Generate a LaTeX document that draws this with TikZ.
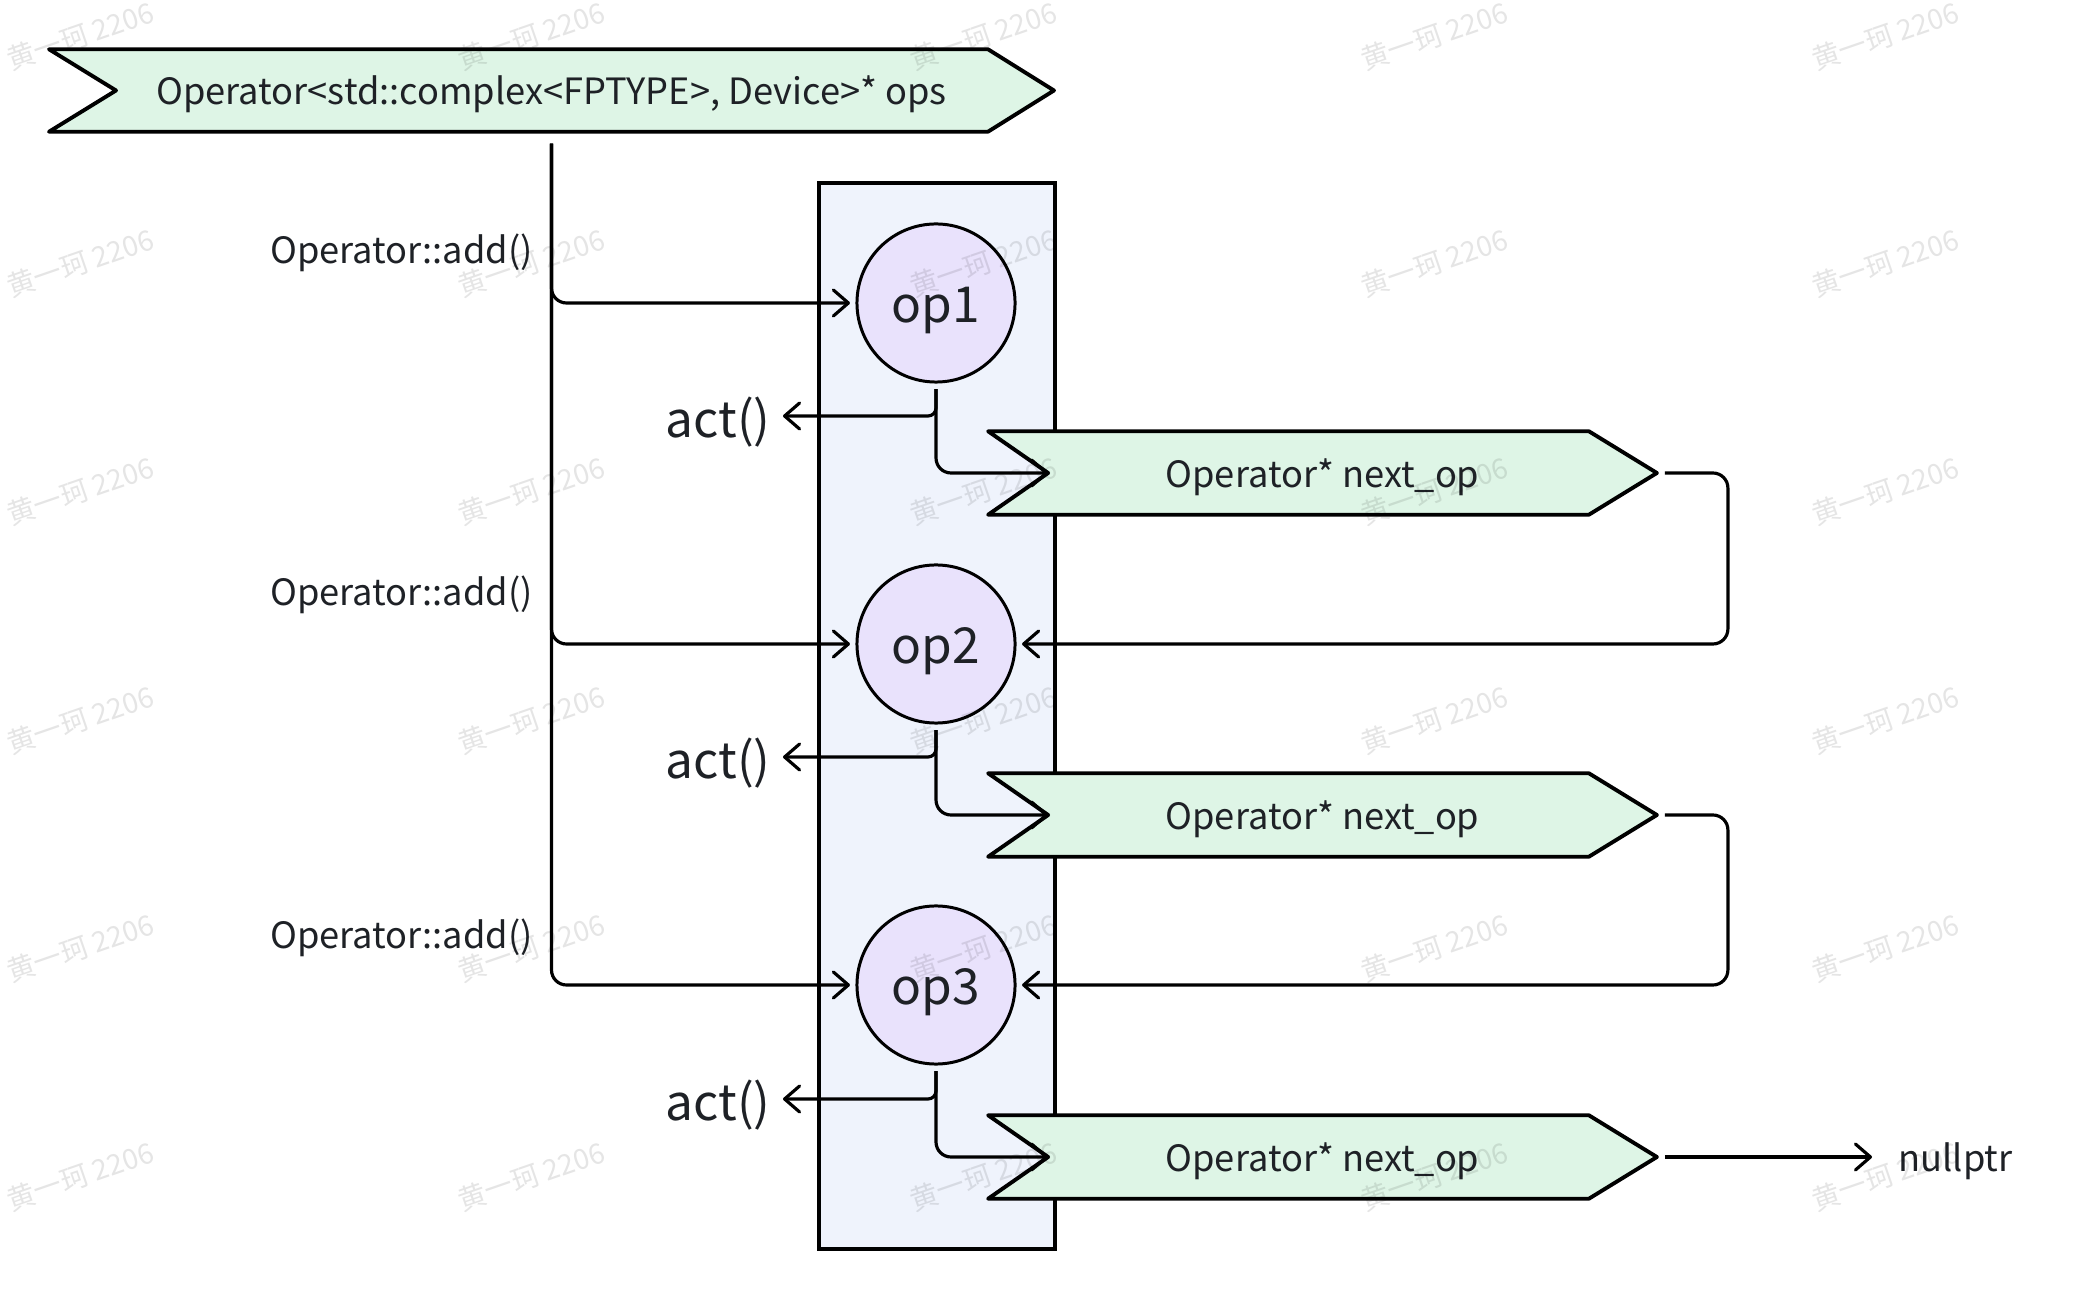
\documentclass[tikz,border=0pt]{standalone}
\usepackage{fontspec}
\setmainfont{Noto Sans CJK SC}
\usetikzlibrary{arrows.meta}
\definecolor{ptrgreen}{RGB}{222,245,230}
\definecolor{listblue}{RGB}{239,243,252}
\definecolor{oppurple}{RGB}{233,226,252}
\definecolor{ink}{RGB}{30,33,38}
\pgfdeclarelayer{listbox}
\pgfdeclarelayer{flags}
\pgfsetlayers{listbox,flags,main}
\tikzset{
% operator circles, pointer flags and their labels
op node/.style={circle,draw,line width=0.85pt,fill=oppurple,minimum size=1.58cm,inner sep=0,outer sep=0.07cm,text=ink,font=\fontsize{14.1}{17}\selectfont,text height=11pt,text depth=0pt},
ptr node/.style={inner sep=0,text=ink,font=\fontsize{10.3}{13}\selectfont,text height=8.1pt,text depth=0pt},
flag line/.style={draw,line width=1.1pt,line join=round,fill=ptrgreen},
call text/.style={text=ink,font=\fontsize{10.3}{13}\selectfont,anchor=east},
act text/.style={text=ink,font=\fontsize{14.1}{17}\selectfont,anchor=east,text height=12.4pt,text depth=0pt},
conn/.style={line width=0.9pt,rounded corners=0.15cm,-{Straight Barb[length=1.5mm,width=2.6mm,round]}},
wm text/.style={text=black,opacity=0.1,rotate=19,font=\fontsize{8}{10}\selectfont}
}
% outline of a pointer flag round node #1: notch depth #2, tip length #3
\newcommand{\ptrflag}[3]{%
  \begin{pgfonlayer}{flags}
    \path[flag line] (#1.north west) -- ([xshift=-#3]#1.north east) -- (#1.east)
      -- ([xshift=-#3]#1.south east) -- (#1.south west) -- ([xshift=#2]#1.west) -- cycle;
  \end{pgfonlayer}}

\begin{document}
\begin{tikzpicture}[x=0.01cm,y=-0.01cm]
\useasboundingbox (0,0) rectangle (2082,1298);
% the list of operators
\begin{pgfonlayer}{listbox}
\draw[line width=0.95pt,fill=listblue] (819,183) rectangle (1055,1249);
\end{pgfonlayer}

\node[ptr node,minimum width=10.03cm,minimum height=0.81cm] (ops) at (551.5,90.5) {Operator<std::complex<FPTYPE>, Device>* ops};
\ptrflag{ops}{0.67cm}{0.66cm}

\node[op node] (op1) at (936,303) {op1};
\node[op node] (op2) at (936,644) {op2};
\node[op node] (op3) at (936,985) {op3};

\node[ptr node,minimum width=6.67cm,minimum height=0.82cm] (next1) at (1322.5,473) {Operator* next\_op};
\node[ptr node,minimum width=6.67cm,minimum height=0.82cm] (next2) at (1322.5,815) {Operator* next\_op};
\node[ptr node,minimum width=6.67cm,minimum height=0.82cm] (next3) at (1322.5,1157) {Operator* next\_op};
\ptrflag{next1}{0.6cm}{0.68cm}
\ptrflag{next2}{0.6cm}{0.68cm}
\ptrflag{next3}{0.6cm}{0.68cm}
\coordinate (next1 in) at ([xshift=0.6cm]next1.west);
\coordinate (next2 in) at ([xshift=0.6cm]next2.west);
\coordinate (next3 in) at ([xshift=0.6cm]next3.west);

\node[call text] (add1) at (545,253) {Operator::add()};
\node[call text] (add2) at (545,595) {Operator::add()};
\node[call text] (add3) at (545,938) {Operator::add()};

\node[act text] (act1) at (783,416) {act()};
\node[act text] (act2) at (783,757) {act()};
\node[act text] (act3) at (783,1099) {act()};

\node[call text,anchor=west,text height=8.1pt,text depth=0pt] (null) at (1886,1157) {nullptr};

% Operator::add() appends to the list
\draw[conn,shorten <=0.12cm] (ops.south) |- (op1);
\draw[conn,shorten <=0.12cm] (ops.south) |- (op2);
\draw[conn,shorten <=0.12cm] (ops.south) |- (op3);

\draw[conn,rounded corners=0.08cm] (op1.south) |- (act1.east);
\draw[conn,rounded corners=0.08cm] (op2.south) |- (act2.east);
\draw[conn,rounded corners=0.08cm] (op3.south) |- (act3.east);
\draw[conn] (op1.south) |- (next1 in);
\draw[conn] (op2.south) |- (next2 in);
\draw[conn] (op3.south) |- (next3 in);

% next_op points at the following operator
\draw[conn,shorten <=0.08cm] (next1.east) -- ++(71,0) |- (op2);
\draw[conn,shorten <=0.08cm] (next2.east) -- ++(71,0) |- (op3);
\draw[conn,shorten <=0.08cm,shorten >=0.14cm] (next3.east) -- (null);

\foreach \wx in {80,531,983,1434,1885}
  \foreach \wy in {36,263,491,720,948,1176}
    \node[wm text] (wm-\wx-\wy) at (\wx,\wy) {黄一珂 2206};
\end{tikzpicture}
\end{document}
